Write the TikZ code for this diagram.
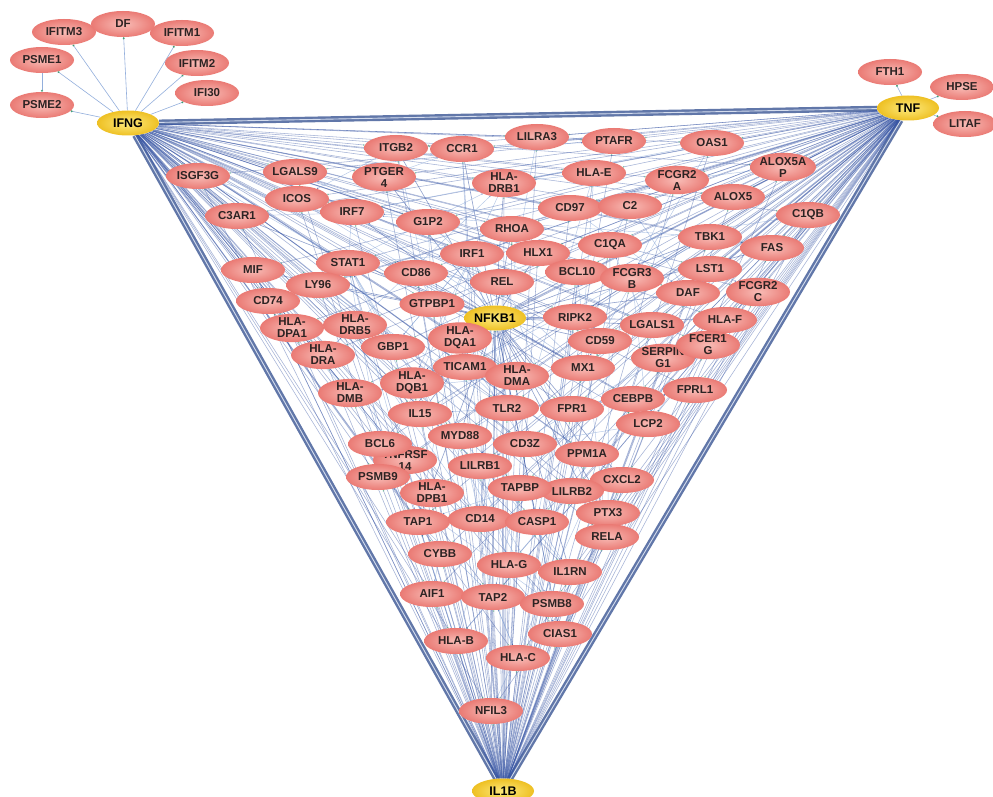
\documentclass[tikz,border=0pt]{standalone}
\usepackage{fontspec}
\newfontfamily\labfont{Liberation Sans}
\usetikzlibrary{shapes.geometric,arrows.meta}
\pgfdeclarelayer{bg}
\pgfsetlayers{bg,main}
\definecolor{pinkin}{RGB}{248,188,182}
\definecolor{pinkout}{RGB}{234,122,116}
\definecolor{yelin}{RGB}{253,234,125}
\definecolor{yelout}{RGB}{238,192,35}
\definecolor{hubline}{RGB}{55,85,165}
\definecolor{lightline}{RGB}{120,155,212}
\definecolor{bordline}{RGB}{80,105,160}
\definecolor{tipc}{RGB}{50,150,110}
\definecolor{txt}{RGB}{45,35,35}
\begin{document}
\begin{tikzpicture}[x=1pt,y=-1pt,
  gene/.style={ellipse, minimum width=64pt, minimum height=26pt, inner sep=0pt,
    align=center, shading=radial, inner color=pinkin, outer color=pinkout,
    text=txt, font=\labfont\bfseries\fontsize{11.5}{12}\selectfont},
  hub/.style={ellipse, minimum width=62pt, minimum height=25pt, inner sep=0pt,
    shading=radial, inner color=yelin, outer color=yelout,
    text=black, font=\labfont\bfseries\fontsize{12.5}{12.5}\selectfont},
  hubedge/.style={draw=hubline, line width=0.55pt, opacity=0.45,
    -{Circle[length=1.6pt,color=tipc]}},
  inedge/.style={draw=lightline, line width=0.45pt, opacity=0.55,
    -{Circle[length=1.4pt,color=hubline]}},
  nfedge/.style={draw=hubline, line width=0.6pt, opacity=0.55},
  periedge/.style={draw=lightline, line width=0.6pt, opacity=0.8,
    -{Circle[length=2pt,color=tipc]}},
  border/.style={draw=bordline, line width=2.4pt, double={rgb,255:red,225;green,232;blue,245},
    double distance=0.9pt, opacity=0.9}]
\useasboundingbox (0,0) rectangle (993,797);

% hubs
\node[hub] (IFNG) at (128,123) {IFNG};
\node[hub] (TNF) at (908,108) {TNF};
\node[hub] (NFKB1) at (495,318) {NFKB1};
\node[hub] (IL1B) at (503,791) {IL1B};

% peripheral genes
\foreach \n/\x/\y in {IFITM3/64/32, IFITM1/182/33, DF/123/24, PSME1/42/60,
  IFITM2/197/63, IFI30/207/93, PSME2/42/105, FTH1/890/72, HPSE/962/87, LITAF/965/124}
  \node[gene] (\n) at (\x,\y) {\n};

% internal genes
\foreach \n/\x/\y/\t in {
ISGF3G/198/176/ISGF3G, LGALS9/295/172/LGALS9, ICOS/297/199/ICOS,
C3AR1/237/216/C3AR1, ITGB2/396/148/ITGB2, CCR1/462/149/CCR1,
LILRA3/537/137/LILRA3, PTAFR/614/141/PTAFR, OAS1/712/143/OAS1,
ALOX5AP/783/167/{ALOX5A\\P}, FCGR2A/677/180/{FCGR2\\A}, ALOX5/733/197/ALOX5,
C1QB/808/215/C1QB, HLAE/594/173/HLA-E, PTGER4/384/177/{PTGER\\4},
HLADRB1/504/183/{HLA-\\DRB1}, IRF7/352/212/IRF7, G1P2/428/222/G1P2,
CD97/570/208/CD97, C2/630/206/C2, RHOA/512/229/RHOA,
C1QA/610/245/C1QA, TBK1/710/237/TBK1, FAS/772/248/FAS,
IRF1/472/254/IRF1, HLX1/538/253/HLX1, STAT1/348/263/STAT1,
MIF/253/270/MIF, CD86/416/273/CD86, LY96/318/285/LY96,
REL/502/282/REL, BCL10/577/272/BCL10, FCGR3B/632/278/{FCGR3\\B},
LST1/710/269/LST1, DAF/688/293/DAF, FCGR2C/758/292/{FCGR2\\C},
CD74/268/301/CD74, GTPBP1/432/304/GTPBP1, RIPK2/575/317/RIPK2,
LGALS1/652/325/LGALS1, HLAF/725/320/HLA-F, HLADPA1/292/328/{HLA-\\DPA1},
HLADRB5/355/325/{HLA-\\DRB5}, HLADQA1/460/338/{HLA-\\DQA1}, CD59/600/341/CD59,
HLADRA/323/355/{HLA-\\DRA}, GBP1/393/347/GBP1, SERPING1/663/358/{SERPIN\\G1},
FCER1G/708/345/{FCER1\\G}, TICAM1/465/367/TICAM1, HLADMA/517/376/{HLA-\\DMA},
MX1/583/368/MX1, HLADMB/350/393/{HLA-\\DMB}, HLADQB1/412/383/{HLA-\\DQB1},
FPRL1/695/390/FPRL1, CEBPB/633/399/CEBPB, TLR2/507/408/TLR2,
FPR1/572/409/FPR1, IL15/420/414/IL15, LCP2/648/424/LCP2,
MYD88/460/436/MYD88, CD3Z/525/444/CD3Z, TNFRSF14/405/460/{TNFRSF\\14},
BCL6/380/444/BCL6, PPM1A/587/454/PPM1A, LILRB1/480/466/LILRB1,
PSMB9/378/477/PSMB9, CXCL2/622/480/CXCL2, HLADPB1/432/493/{HLA-\\DPB1},
LILRB2/572/491/LILRB2, TAPBP/520/488/TAPBP, PTX3/608/513/PTX3,
TAP1/418/522/TAP1, CD14/480/519/CD14, CASP1/537/522/CASP1,
RELA/607/537/RELA, CYBB/440/554/CYBB, HLAG/509/565/HLA-G,
IL1RN/570/572/IL1RN, AIF1/432/594/AIF1, TAP2/493/597/TAP2,
PSMB8/552/604/PSMB8, HLAB/456/641/HLA-B, CIAS1/560/634/CIAS1,
HLAC/518/658/HLA-C, NFIL3/491/711/NFIL3}
  \node[gene] (\n) at (\x,\y) {\t};

\begin{pgfonlayer}{bg}
\fill[white] (0,0) rectangle (993,797);
% triangle borders
\draw[border] (IFNG) -- (TNF);
\draw[border] (IFNG) -- (IL1B);
\draw[border] (TNF) -- (IL1B);
% peripheral edges
\foreach \n in {IFITM3, DF, IFITM1, PSME1, IFITM2, IFI30, PSME2}
  \draw[periedge] (IFNG) -- (\n);
\foreach \n in {FTH1, HPSE, LITAF}
  \draw[periedge] (TNF) -- (\n);
\draw[periedge] (PSME1) -- (PSME2);
% hub edges
\foreach \n in {NFKB1,
ISGF3G, LGALS9, ICOS, C3AR1, ITGB2, CCR1, LILRA3, PTAFR, OAS1, ALOX5AP, FCGR2A,
ALOX5, C1QB, HLAE, PTGER4, HLADRB1, IRF7, G1P2, CD97, C2, RHOA, C1QA, TBK1, FAS,
IRF1, HLX1, STAT1, MIF, CD86, LY96, REL, BCL10, FCGR3B, LST1, DAF, FCGR2C, CD74,
GTPBP1, RIPK2, LGALS1, HLAF, HLADPA1, HLADRB5, HLADQA1, CD59, HLADRA, GBP1,
SERPING1, FCER1G, TICAM1, HLADMA, MX1, HLADMB, HLADQB1, FPRL1, CEBPB, TLR2, FPR1,
IL15, LCP2, MYD88, CD3Z, TNFRSF14, BCL6, PPM1A, LILRB1, PSMB9, CXCL2, HLADPB1,
LILRB2, TAPBP, PTX3, TAP1, CD14, CASP1, RELA, CYBB, HLAG, IL1RN, AIF1, TAP2,
PSMB8, HLAB, CIAS1, HLAC, NFIL3}
{
  \draw[hubedge] (IFNG) -- (\n);
  \draw[hubedge] (TNF) -- (\n);
  \draw[hubedge] (IL1B) -- (\n);
}
% NFKB1 edges
\foreach \n in {REL, RELA, IRF1, RIPK2, MYD88, TLR2, TICAM1, BCL10, TBK1, CD86,
STAT1, GTPBP1, HLADQA1, HLADMA, CD59, MX1, FPR1, CASP1, CD14, LY96, MIF, CXCL2,
PTX3, IL15, BCL6, IRF7, C3AR1, ITGB2, CCR1, FAS, PTGER4, RHOA, HLX1, CEBPB, NFIL3,
PPM1A, TAP1, TAP2, IL1RN, CIAS1, HLADRB1, LGALS1, HLAF, DAF}
  \draw[nfedge] (NFKB1) -- (\n);
% internal edges
\foreach \a/\b in {STAT1/IRF1, STAT1/IRF7, STAT1/GBP1, STAT1/TAP1, STAT1/CIAS1,
HLADRA/HLADRB1, HLADRA/HLADRB5, HLADPA1/HLADPB1, HLADQA1/HLADQB1, HLADMA/HLADMB,
CD74/HLADRA, CD74/HLADRB1, TAP1/TAP2, TAPBP/TAP1, TAPBP/TAP2, HLAB/TAP1, HLAC/TAP2,
HLAE/HLAB, HLAG/LILRB1, HLAG/LILRB2, PSMB8/PSMB9, TLR2/MYD88, TLR2/CD14,
TICAM1/TBK1, TBK1/IRF7, IRF7/OAS1, G1P2/IRF7, MX1/IRF7, C1QA/C1QB, C2/C1QA,
DAF/C2, CD59/DAF, FCGR2A/FCGR3B, FCGR2C/FCER1G, FPR1/FPRL1, ALOX5/ALOX5AP,
LCP2/CD3Z, ITGB2/ICOS, CCR1/PTAFR, LILRA3/LILRB1, CASP1/CIAS1, CASP1/IL1RN,
RIPK2/CASP1, CEBPB/NFIL3, BCL6/STAT1, CYBB/AIF1, HLAF/LILRB1, HLX1/RHOA,
LGALS1/LGALS9, SERPING1/C1QA, CD97/DAF, ISGF3G/STAT1, ISGF3G/IRF1, GBP1/IRF1,
IL15/STAT1, MIF/CD74, LY96/TLR2, PTGER4/CCR1, RELA/REL, RELA/BCL10, BCL10/RIPK2,
PPM1A/CASP1, LST1/FCGR2C, TBK1/FAS, CXCL2/PTX3, ICOS/CD86, CD86/CD3Z,
GTPBP1/G1P2, HLAE/HLADRB1, HLAE/LILRB2, CCR1/CD14, ITGB2/CD14, IRF1/CASP1,
IRF1/TAP1, IRF1/PSMB9, STAT1/PSMB8, OAS1/MX1, G1P2/MX1, HLADMB/CD74,
HLADRB1/HLADQB1, C3AR1/C2, FCGR3B/LCP2, FCER1G/LCP2, RHOA/FCGR2A,
REL/CD86, IRF1/GBP1, TAP2/HLAB, TAP2/HLAC, HLAG/TAPBP, PTX3/C1QA, CEBPB/IL15,
MYD88/IL1RN, CD14/LY96, TICAM1/TLR2, ALOX5AP/FCGR2A}
  \draw[inedge] (\a) -- (\b);
\end{pgfonlayer}
\end{tikzpicture}
\end{document}
